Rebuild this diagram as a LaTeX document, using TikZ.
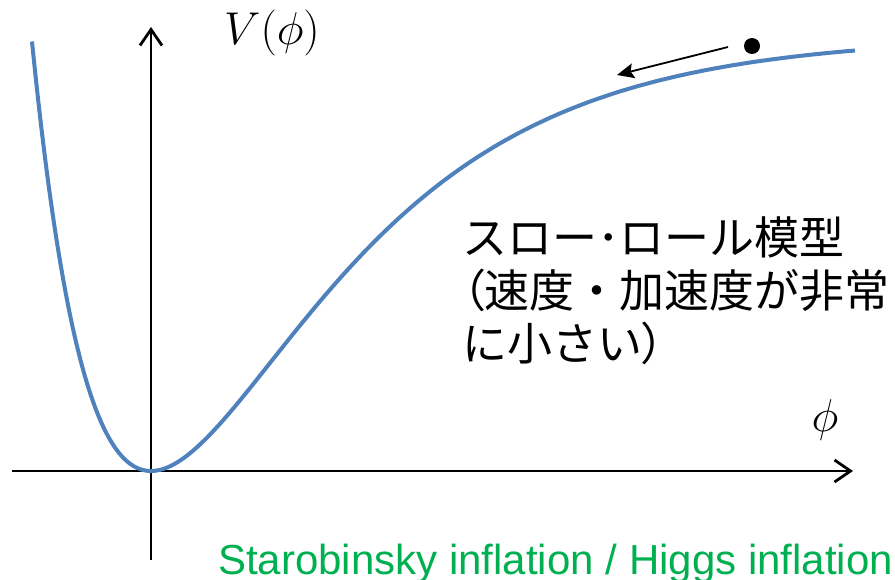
\documentclass[tikz,border=0pt]{standalone}
\usepackage{fontspec}
\newfontfamily\jpfont{Noto Sans CJK JP}
\newfontfamily\jpprop[RawFeature=+palt]{Noto Sans CJK JP}
\newfontfamily\arialfont{Liberation Sans}
\usetikzlibrary{arrows.meta}
\definecolor{curveblue}{RGB}{79,129,189}
\definecolor{labelgreen}{RGB}{0,176,80}
\newcommand{\bigmath}[1]{\scalebox{1.85}{\Huge $#1$}}
\tikzset{
  axisline/.style={line width=2.8pt, draw=black, -{Straight Barb[length=16pt,width=22pt,line width=2.8pt]}},
  potential/.style={line width=4pt, draw=curveblue},
  motion/.style={line width=1.8pt, draw=black, -{Stealth[length=17pt,width=15pt,inset=3pt]}},
  ball/.style={circle, fill=black, inner sep=0pt, minimum size=16pt},
  jptext/.style={font=\jpfont\fontsize{45}{53}\selectfont, align=left, anchor=north west, inner sep=0pt},
  mathlabel/.style={inner sep=0pt},
  greenlabel/.style={font=\arialfont\fontsize{42}{50}\selectfont, text=labelgreen, anchor=base west, inner sep=0pt}
}
\begin{document}
\begin{tikzpicture}[x=1pt,y=-1pt]
\useasboundingbox (0,0) rectangle (895,580);
% axes
\coordinate (xstart) at (12,471);
\coordinate (xend) at (853,471);
\coordinate (ystart) at (151,560);
\coordinate (yend) at (151,27);
\draw[axisline] (xstart) -- (xend);
\draw[axisline] (ystart) -- (yend);
% potential curve
\draw[potential] plot[domain=-119:704, samples=250, smooth] ({151+\x}, {471 - 435*(1-exp(-0.0058*\x))^2});
% ball and arrow
\node[ball] (dot) at (752,46) {};
\coordinate (arrstart) at (728,47);
\coordinate (arrend) at (617,75);
\draw[motion] (arrstart) -- (arrend);
% labels
\node[mathlabel] (vlabel) at (272,33) {\bigmath{V(\phi)}};
\node[mathlabel] (philabel) at (825,420) {\bigmath{\phi}};
\node[jptext] (jp) at (462,216) {スロー･ロール模型\\{\jpprop （}速度・加速度が非常\\に小さい{\jpprop ）}};
\node[greenlabel] (green) at (218,574) {Starobinsky inflation / Higgs inflation};
\end{tikzpicture}
\end{document}
